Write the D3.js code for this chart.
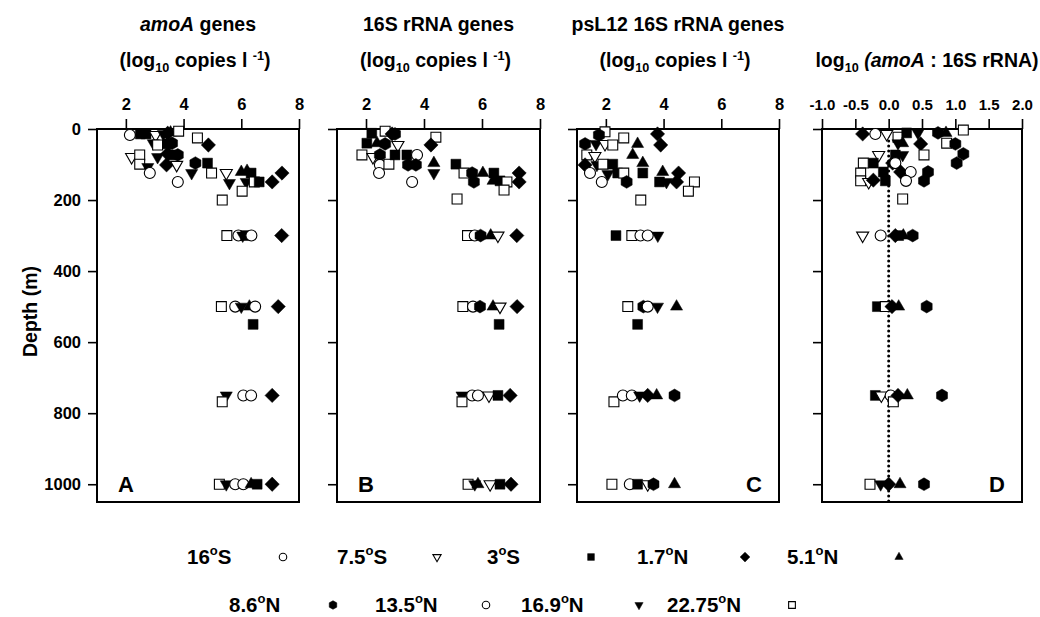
<!DOCTYPE html>
<html>
<head>
<meta charset="utf-8">
<script src="https://cdn.jsdelivr.net/npm/d3@7"></script>
<style>
  body { margin: 0; background: #fff; }
  svg { font-family: "Liberation Sans", Arial, Helvetica, sans-serif; font-weight: bold; }
</style>
</head>
<body>
<svg id="chart" width="1040" height="617"></svg>
<script>
// stations, legend text and marker style
const stations = ["16S", "7.5S", "3S", "1.7N", "5.1N", "8.6N", "13.5N", "16.9N", "22.75N"];
const stationNumbers = ["16", "7.5", "3", "1.7", "5.1", "8.6", "13.5", "16.9", "22.75"];
const stationHemis = ["S", "S", "S", "N", "N", "N", "N", "N", "N"];
const stationShapes = ["circle", "triDown", "square", "diamond", "triUp", "hexagon", "circle", "triDown", "square"];
const stationFilled = [false, false, true, true, true, true, false, true, false];
const legendRows = [["16S", "7.5S", "3S", "1.7N", "5.1N"], ["8.6N", "13.5N", "16.9N", "22.75N"]];

const depthTicks = [0, 200, 400, 600, 800, 1000];
const copyTicks = [2, 4, 6, 8];
const ratioTicks = [-1.0, -0.5, 0.0, 0.5, 1.0, 1.5, 2.0];

// [station, depth (m), value]
const amoaPoints = [
  ["16S", 17, 2.14], ["3S", 14, 2.5], ["3S", 14, 2.7], ["7.5S", 17, 3.03], ["16.9N", 14, 3.3], ["1.7N", 12, 3.45],
  ["5.1N", 10, 3.55], ["22.75N", 6, 3.83], ["16.9N", 40, 2.95], ["22.75N", 45, 3.1], ["3S", 42, 3.45], ["8.6N", 40, 3.6],
  ["22.75N", 25, 4.48], ["1.7N", 45, 4.86], ["7.5S", 79, 2.2], ["22.75N", 73, 2.48], ["22.75N", 99, 2.48],
  ["16.9N", 107, 2.76], ["16S", 124, 2.83], ["16.9N", 79, 3.1], ["1.7N", 70, 3.45], ["3S", 73, 3.6], ["8.6N", 73, 3.8],
  ["1.7N", 101, 3.41], ["7.5S", 101, 3.76], ["16S", 149, 3.8], ["8.6N", 96, 4.41], ["16.9N", 124, 4.28],
  ["3S", 96, 4.83], ["22.75N", 124, 4.97], ["7.5S", 124, 5.48], ["16.9N", 152, 5.59], ["5.1N", 121, 6.0],
  ["5.1N", 118, 6.2], ["3S", 124, 6.34], ["16.9N", 149, 6.17], ["22.75N", 149, 6.45], ["3S", 149, 6.62],
  ["22.75N", 175, 6.03], ["1.7N", 149, 7.07], ["1.7N", 124, 7.41], ["22.75N", 200, 5.34],
  ["22.75N", 300, 5.5], ["16S", 300, 5.9], ["16.9N", 300, 6.05], ["3S", 300, 6.15], ["13.5N", 300, 6.35], ["1.7N", 300, 7.4],
  ["22.75N", 500, 5.31], ["16S", 500, 5.79], ["16.9N", 500, 6.0], ["5.1N", 500, 6.28], ["13.5N", 500, 6.48],
  ["1.7N", 500, 7.28], ["3S", 550, 6.41],
  ["16.9N", 750, 5.48], ["22.75N", 768, 5.34], ["16S", 750, 6.07], ["13.5N", 750, 6.34], ["1.7N", 750, 7.07],
  ["22.75N", 1000, 5.24], ["16.9N", 1000, 5.48], ["16S", 1000, 5.79], ["13.5N", 1000, 6.07], ["5.1N", 1000, 6.34],
  ["3S", 1000, 6.55], ["1.7N", 1000, 7.07]
];

const rrnaPoints = [
  ["3S", 12, 2.2], ["22.75N", 6, 2.66], ["1.7N", 14, 2.9], ["8.6N", 14, 3.0], ["3S", 40, 2.03], ["5.1N", 40, 2.38],
  ["8.6N", 42, 2.66], ["7.5S", 45, 3.1], ["22.75N", 73, 1.86], ["7.5S", 79, 2.24], ["8.6N", 73, 2.48],
  ["16S", 101, 2.48], ["13.5N", 124, 2.45], ["22.75N", 99, 2.79], ["3S", 73, 3.0], ["3S", 73, 3.41],
  ["16S", 73, 3.76], ["8.6N", 101, 3.45], ["8.6N", 101, 3.72], ["16S", 149, 3.59], ["22.75N", 23, 4.41],
  ["1.7N", 45, 4.24], ["5.1N", 96, 4.34], ["16.9N", 124, 4.34], ["3S", 99, 5.1], ["22.75N", 124, 5.38],
  ["8.6N", 124, 5.66], ["8.6N", 149, 5.72], ["5.1N", 124, 6.03], ["3S", 124, 6.41], ["5.1N", 146, 6.38],
  ["3S", 146, 6.62], ["22.75N", 149, 6.86], ["22.75N", 172, 6.76], ["1.7N", 124, 7.28], ["1.7N", 149, 7.28],
  ["22.75N", 197, 5.14],
  ["22.75N", 300, 5.5], ["16S", 300, 5.75], ["8.6N", 300, 5.95], ["5.1N", 300, 6.3], ["7.5S", 300, 6.55], ["1.7N", 300, 7.2],
  ["22.75N", 500, 5.34], ["16S", 500, 5.69], ["8.6N", 500, 5.93], ["5.1N", 500, 6.38], ["7.5S", 500, 6.62],
  ["1.7N", 500, 7.21], ["3S", 550, 6.59],
  ["16.9N", 750, 5.31], ["22.75N", 768, 5.31], ["16S", 750, 5.66], ["13.5N", 750, 5.86], ["7.5S", 750, 6.24],
  ["3S", 750, 6.55], ["1.7N", 750, 6.97],
  ["22.75N", 1000, 5.52], ["16.9N", 1000, 5.75], ["5.1N", 1000, 5.86], ["7.5S", 1000, 6.28], ["3S", 1000, 6.62],
  ["1.7N", 1000, 7.0]
];

const psl12Points = [
  ["22.75N", 8, 1.97], ["8.6N", 17, 1.76], ["8.6N", 42, 1.28], ["16.9N", 42, 1.66], ["7.5S", 42, 1.97],
  ["22.75N", 45, 2.24], ["22.75N", 25, 2.62], ["22.75N", 73, 1.34], ["7.5S", 76, 1.62], ["1.7N", 101, 1.28],
  ["16.9N", 101, 1.69], ["22.75N", 99, 1.9], ["16S", 124, 1.45], ["16S", 149, 1.86], ["16.9N", 127, 2.07],
  ["3S", 99, 2.24], ["3S", 124, 2.41], ["22.75N", 124, 2.62], ["8.6N", 149, 2.72], ["5.1N", 42, 3.1],
  ["5.1N", 73, 2.93], ["5.1N", 96, 3.28], ["3S", 124, 3.28], ["22.75N", 200, 3.21], ["1.7N", 14, 3.79],
  ["1.7N", 45, 3.9], ["5.1N", 121, 3.97], ["3S", 149, 3.86], ["16.9N", 149, 4.1], ["1.7N", 124, 4.52],
  ["1.7N", 149, 4.45], ["22.75N", 149, 5.07], ["22.75N", 175, 4.86],
  ["3S", 300, 2.35], ["22.75N", 300, 2.9], ["16S", 300, 3.2], ["13.5N", 300, 3.45], ["16.9N", 300, 3.8],
  ["22.75N", 500, 2.76], ["8.6N", 500, 3.3], ["16S", 500, 3.45], ["16.9N", 500, 3.79], ["5.1N", 500, 4.45],
  ["3S", 550, 3.1],
  ["22.75N", 768, 2.28], ["16S", 750, 2.59], ["13.5N", 750, 2.9], ["16.9N", 750, 3.17], ["1.7N", 750, 3.45],
  ["5.1N", 750, 3.76], ["8.6N", 750, 4.38],
  ["22.75N", 1000, 2.21], ["16S", 1000, 2.83], ["3S", 1000, 3.1], ["7.5S", 1000, 3.45], ["8.6N", 1000, 3.65],
  ["5.1N", 1000, 4.38]
];

const ratioPoints = [
  ["1.7N", 14, -0.39], ["16S", 14, -0.2], ["7.5S", 14, -0.03], ["22.75N", 23, 0.14], ["3S", 11, 0.27],
  ["5.1N", 40, 0.21], ["16.9N", 11, 0.44], ["1.7N", 42, 0.48], ["22.75N", 73, 0.53], ["8.6N", 11, 0.74],
  ["5.1N", 11, 0.86], ["22.75N", 40, 0.87], ["8.6N", 42, 1.0], ["22.75N", 3, 1.12], ["8.6N", 70, 1.12],
  ["8.6N", 96, 1.02], ["7.5S", 73, -0.15], ["3S", 96, -0.23], ["22.75N", 96, -0.38], ["22.75N", 124, -0.42],
  ["22.75N", 146, -0.42], ["7.5S", 149, -0.3], ["1.7N", 144, -0.23], ["3S", 121, -0.08], ["3S", 146, -0.05],
  ["3S", 73, 0.1], ["16.9N", 73, 0.21], ["1.7N", 96, 0.06], ["16S", 96, 0.1], ["1.7N", 121, 0.18],
  ["16S", 121, 0.33], ["13.5N", 146, 0.26], ["8.6N", 121, 0.59], ["8.6N", 146, 0.53], ["22.75N", 197, 0.21],
  ["16.9N", 40, 0.14],
  ["7.5S", 300, -0.39], ["16S", 300, -0.12], ["1.7N", 300, 0.1], ["3S", 300, 0.15], ["5.1N", 300, 0.22], ["8.6N", 300, 0.36],
  ["3S", 500, -0.17], ["22.75N", 500, -0.05], ["1.7N", 500, 0.05], ["5.1N", 500, 0.15], ["8.6N", 500, 0.57],
  ["3S", 750, -0.2], ["7.5S", 750, -0.11], ["16S", 750, 0.03], ["22.75N", 768, 0.07], ["1.7N", 750, 0.14],
  ["5.1N", 750, 0.28], ["8.6N", 750, 0.8],
  ["22.75N", 1000, -0.28], ["16.9N", 1000, -0.12], ["1.7N", 1000, 0.0], ["5.1N", 1000, 0.17], ["8.6N", 1000, 0.53]
];

const svg = d3.select("#chart");
const plotTop = 129, plotBottom = 502;
const y = d3.scaleLinear().domain([0, 1050]).range([plotTop, plotBottom]);

const shapePath = (type, s) => {
  if (type === "circle") {
    const r = s * 0.5;
    return `M${r},0A${r},${r} 0 1,1 ${-r},0A${r},${r} 0 1,1 ${r},0Z`;
  }
  if (type === "square") {
    const h = s * 0.45;
    return `M${-h},${-h}H${h}V${h}H${-h}Z`;
  }
  if (type === "diamond") {
    const d = s * 0.65;
    return `M0,${-d}L${d},0L0,${d}L${-d},0Z`;
  }
  if (type === "triUp" || type === "triDown") {
    const t = s * 1.1, h = t * 0.866, k = type === "triUp" ? 1 : -1;
    return `M0,${-k * h * 2 / 3}L${t / 2},${k * h / 3}L${-t / 2},${k * h / 3}Z`;
  }
  // hexagon, pointy top
  const r = s * 0.58;
  return d3.range(6).map(i => {
    const a = (-90 + 60 * i) * Math.PI / 180;
    return `${i ? "L" : "M"}${(r * Math.cos(a)).toFixed(2)},${(r * Math.sin(a)).toFixed(2)}`;
  }).join("") + "Z";
};

const drawMarker = (g, st, px, py, s) => {
  const i = stations.indexOf(st);
  g.append("path")
    .attr("transform", `translate(${px},${py})`)
    .attr("d", shapePath(stationShapes[i], s))
    .attr("fill", stationFilled[i] ? "#000" : "#fff")
    .attr("stroke", "#000")
    .attr("stroke-width", stationFilled[i] ? 0.5 : 1.1);
};

// title helper: array of [text, style] pieces
const addRich = (x, yy, pieces, size) => {
  const t = svg.append("text").attr("x", x).attr("y", yy).attr("text-anchor", "middle").attr("font-size", size);
  let shift = 0;
  pieces.forEach(([txt, style]) => {
    const sp = t.append("tspan").text(txt);
    let target = 0;
    if (style === "sub") { target = 5; sp.attr("font-size", size * 0.65); }
    if (style === "sup") { target = -7; sp.attr("font-size", size * 0.65); }
    if (style === "it") sp.attr("font-style", "italic");
    if (target !== shift) { sp.attr("dy", target - shift); shift = target; }
  });
  return t;
};

const copiesLine = [["(log", ""], ["10", "sub"], [" copies l ", ""], ["-1", "sup"], [")", ""]];

const panels = [
  { data: amoaPoints, left: 97, width: 202, domain: [1, 8], ticks: copyTicks, fmt: d => d, letter: "A", letterRight: false,
    title1: [["amoA", "it"], [" genes", ""]], title2: copiesLine },
  { data: rrnaPoints, left: 337, width: 203, domain: [1, 8], ticks: copyTicks, fmt: d => d, letter: "B", letterRight: false,
    title1: [["16S rRNA genes", ""]], title2: copiesLine },
  { data: psl12Points, left: 577, width: 202, domain: [1, 8], ticks: copyTicks, fmt: d => d, letter: "C", letterRight: true,
    title1: [["psL12 16S rRNA genes", ""]], title2: copiesLine },
  { data: ratioPoints, left: 822, width: 200, domain: [-1, 2], ticks: ratioTicks, fmt: d => d.toFixed(1), letter: "D", letterRight: true,
    title1: null, title2: [["log", ""], ["10", "sub"], [" ", ""], ["(amoA", "it"], [" : 16S rRNA)", ""]] }
];

panels.forEach((p, pi) => {
  const x = d3.scaleLinear().domain(p.domain).range([p.left, p.left + p.width]);
  const g = svg.append("g");

  // top axis
  const xa = g.append("g").attr("transform", `translate(0,${plotTop})`)
    .call(d3.axisTop(x).tickValues(p.ticks).tickFormat(p.fmt).tickSize(10).tickPadding(9).tickSizeOuter(0));
  xa.select(".domain").remove();
  xa.selectAll("line").attr("stroke-width", 1.6);
  xa.selectAll("text").attr("font-family", null).attr("font-size", pi === 3 ? 15 : 16.5).attr("font-weight", "bold");

  // left depth ticks
  const ya = g.append("g").attr("transform", `translate(${p.left},0)`)
    .call(d3.axisLeft(y).tickValues(depthTicks).tickSize(9).tickPadding(7).tickSizeOuter(0)
      .tickFormat(pi === 0 ? d => d : () => ""));
  ya.select(".domain").remove();
  ya.selectAll("line").attr("stroke-width", 1.6);
  ya.selectAll("text").attr("font-family", null).attr("font-size", 16.5).attr("font-weight", "bold");

  // zero line in the ratio panel
  if (pi === 3) {
    g.append("line").attr("x1", x(0)).attr("x2", x(0)).attr("y1", plotTop + 2).attr("y2", plotBottom)
      .attr("stroke", "#000").attr("stroke-width", 3).attr("stroke-linecap", "round")
      .attr("stroke-dasharray", "0,5");
  }

  // frame
  g.append("rect").attr("x", p.left).attr("y", plotTop).attr("width", p.width).attr("height", plotBottom - plotTop)
    .attr("fill", "none").attr("stroke", "#000").attr("stroke-width", 2);

  const marks = g.append("g");
  p.data.forEach(([st, depth, v]) => drawMarker(marks, st, x(v), y(depth), 11));

  g.append("text")
    .attr("x", p.letterRight ? p.left + p.width - 17 : p.left + 21)
    .attr("y", y(1000) + 8)
    .attr("text-anchor", p.letterRight ? "end" : "start")
    .attr("font-size", 22)
    .text(p.letter);

  const cx = p.left + p.width / 2;
  if (p.title1) addRich(cx, 31, p.title1, 19.5);
  addRich(pi === 3 ? cx + 5 : cx - 3, 67, p.title2, 19.5);
});

svg.append("text")
  .attr("transform", `translate(37,${(plotTop + plotBottom) / 2 - 4}) rotate(-90)`)
  .attr("text-anchor", "middle").attr("font-size", 19.5)
  .text("Depth (m)");

// legend
const legendLayout = [
  { y: 557, x0: 187, step: 150, m0: 283, mstep: 154 },
  { y: 605, x0: 229, step: 146, m0: 333, mstep: 153 }
];
legendRows.forEach((row, ri) => {
  const L = legendLayout[ri];
  const lg = svg.append("g");
  row.forEach((st, i) => {
    const si = stations.indexOf(st);
    const t = lg.append("text").attr("x", L.x0 + i * L.step).attr("y", L.y + 7).attr("font-size", 20.5);
    t.append("tspan").text(stationNumbers[si]);
    t.append("tspan").text("o").attr("font-size", 13).attr("dy", -9);
    t.append("tspan").text(stationHemis[si]).attr("dy", 9);
    drawMarker(lg, st, L.m0 + i * L.mstep, L.y, 7.5);
  });
});
</script>
</body>
</html>
